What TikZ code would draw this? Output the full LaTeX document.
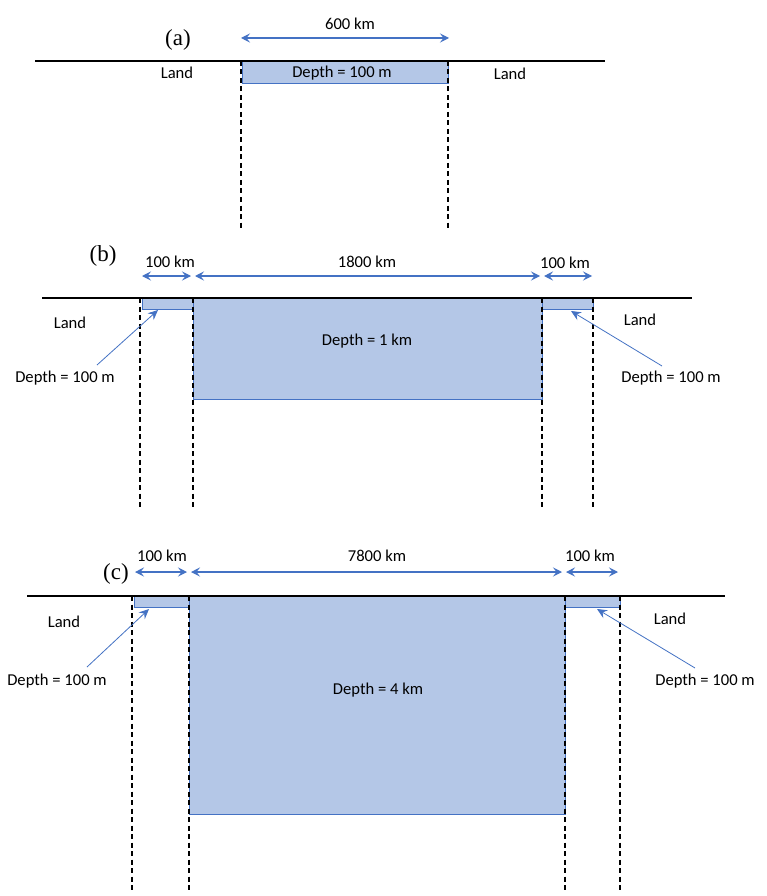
\documentclass[tikz,border=0pt]{standalone}
\usepackage{fontspec}
\setmainfont{Carlito}
\newfontfamily\panelfont{Liberation Serif}
\usetikzlibrary{arrows.meta}
\definecolor{wfill}{HTML}{B4C7E7}
\definecolor{wline}{HTML}{4472C4}
\tikzset{
  lbl/.style={font=\fontsize{16.6}{19}\selectfont, inner sep=0pt},
  plabel/.style={font=\panelfont\fontsize{23}{26}\selectfont, inner sep=0pt},
  ground/.style={line width=2pt},
  wall/.style={line width=1.3pt, dash pattern=on 5pt off 3.5pt},
  water/.style={fill=wfill, draw=wline, line width=0.8pt},
  dimarrow/.style={wline, line width=1.1pt,
    {Stealth[inset=3.5pt,length=9pt,width=9pt]}-{Stealth[inset=3.5pt,length=9pt,width=9pt]}},
  callout/.style={wline, line width=0.8pt, -{Stealth[inset=3.5pt,length=10pt,width=9pt]}}
}
\begin{document}
\begin{tikzpicture}[x=1pt,y=-1pt]
\useasboundingbox (0,0) rectangle (767,896);
\fill[white] (0,0) rectangle (767,896);
% ---------------- (a)
\draw[water] (242,61) rectangle (448,83);
\draw[ground] (35,61) -- (605,61);
\draw[wall] (241,61) -- (241,228);
\draw[wall] (448,61) -- (448,228);
\node[plabel] (pa) at (178,40) {(a)};
\node[lbl] (wa) at (350,24) {600 km};
\coordinate (a1) at (241,38);
\coordinate (a2) at (449,38);
\draw[dimarrow] (a1) -- (a2);
\node[lbl] (da) at (342,73) {Depth = 100 m};
\node[lbl] (la1) at (177,73) {Land};
\node[lbl] (la2) at (510,74) {Land};
% ---------------- (b)
\draw[water] (142,298) rectangle (193,309);
\draw[water] (193,298) rectangle (542,399);
\draw[water] (542,298) rectangle (593,309);
\draw[ground] (42,298) -- (692,298);
\foreach \x in {140,193,542,593} \draw[wall] (\x,298) -- (\x,508);
\node[plabel] (pb) at (103,256) {(b)};
\node[lbl] (wb1) at (170,262) {100 km};
\node[lbl] (wb2) at (367,262) {1800 km};
\node[lbl] (wb3) at (565,263) {100 km};
\coordinate (b1) at (142,276);
\coordinate (b2) at (191,276);
\coordinate (b3) at (195,276);
\coordinate (b4) at (540,276);
\coordinate (b5) at (544,276);
\coordinate (b6) at (592,276);
\draw[dimarrow] (b1) -- (b2);
\draw[dimarrow] (b3) -- (b4);
\draw[dimarrow] (b5) -- (b6);
\node[lbl] (db) at (367,341) {Depth = 1 km};
\node[lbl] (lb1) at (70,323) {Land};
\node[lbl] (lb2) at (640,320) {Land};
\node[lbl] (sb1) at (65,378) {Depth = 100 m};
\node[lbl] (sb2) at (671,378) {Depth = 100 m};
\coordinate (sb1t) at (97,365);
\coordinate (sb1h) at (158,310);
\coordinate (sb2t) at (662,366);
\coordinate (sb2h) at (571,311);
\draw[callout] (sb1t) -- (sb1h);
\draw[callout] (sb2t) -- (sb2h);
% ---------------- (c)
\draw[water] (134,596) rectangle (189,607);
\draw[water] (189,596) rectangle (565,814);
\draw[water] (565,596) rectangle (620,607);
\draw[ground] (27,596) -- (725,596);
\foreach \x in {132,189,565,620} \draw[wall] (\x,596) -- (\x,892);
\node[plabel] (pc) at (116,574) {(c)};
\node[lbl] (wc1) at (162,556) {100 km};
\node[lbl] (wc2) at (377,556) {7800 km};
\node[lbl] (wc3) at (590,556) {100 km};
\coordinate (c1) at (135,572);
\coordinate (c2) at (187,572);
\coordinate (c3) at (191,572);
\coordinate (c4) at (562,572);
\coordinate (c5) at (566,572);
\coordinate (c6) at (618,572);
\draw[dimarrow] (c1) -- (c2);
\draw[dimarrow] (c3) -- (c4);
\draw[dimarrow] (c5) -- (c6);
\node[lbl] (dc) at (378,690) {Depth = 4 km};
\node[lbl] (lc1) at (64,622) {Land};
\node[lbl] (lc2) at (670,619) {Land};
\node[lbl] (sc1) at (57,681) {Depth = 100 m};
\node[lbl] (sc2) at (705,681) {Depth = 100 m};
\coordinate (sc1t) at (87,667);
\coordinate (sc1h) at (149,609);
\coordinate (sc2t) at (695,668);
\coordinate (sc2h) at (597,609);
\draw[callout] (sc1t) -- (sc1h);
\draw[callout] (sc2t) -- (sc2h);
\end{tikzpicture}
\end{document}
